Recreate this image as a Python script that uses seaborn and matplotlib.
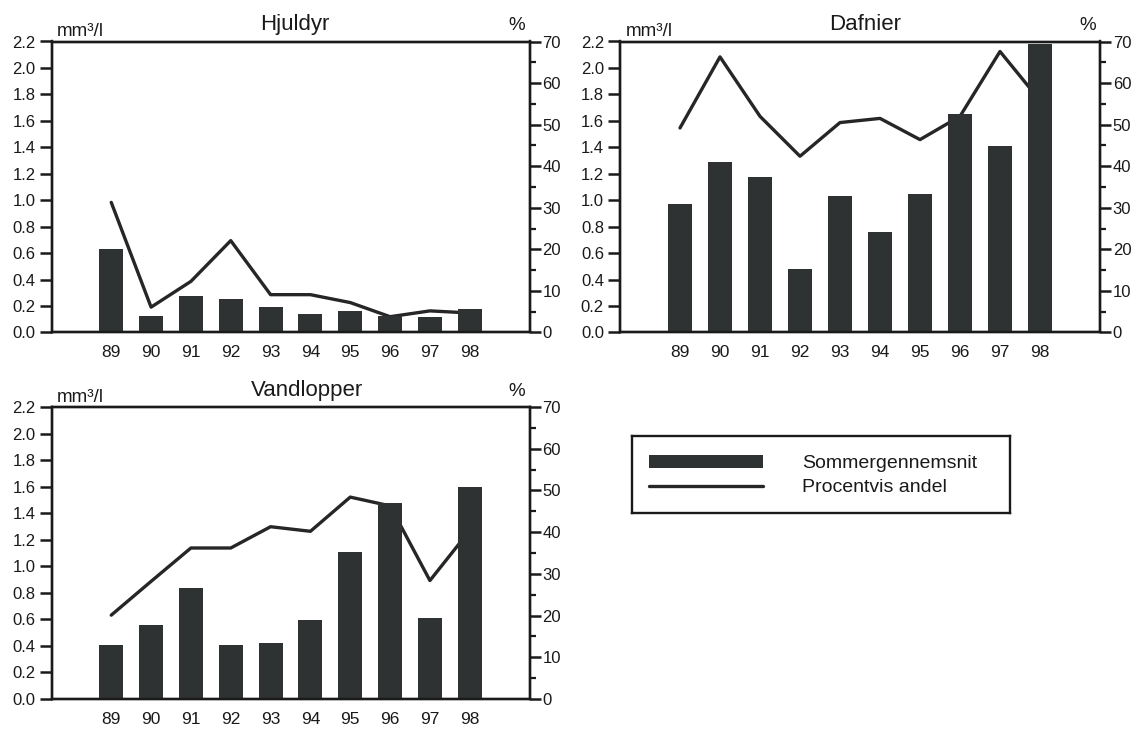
import matplotlib
matplotlib.use("Agg")
import matplotlib.pyplot as plt
from matplotlib.patches import Patch
from matplotlib.lines import Line2D
from matplotlib.ticker import MultipleLocator, FormatStrFormatter
import seaborn as sns

# Sampling years (two-digit)
years = ["89", "90", "91", "92", "93", "94", "95", "96", "97", "98"]

# Summer mean biovolume (mm³/l) and percentage share of total zooplankton
hjuldyr_vol = [0.63, 0.125, 0.275, 0.255, 0.19, 0.14, 0.16, 0.125, 0.12, 0.178]
hjuldyr_pct = [31.3, 6.1, 12.3, 22.1, 9.1, 9.1, 7.2, 3.8, 5.2, 4.7]

dafnier_vol = [0.975, 1.29, 1.177, 0.479, 1.03, 0.763, 1.047, 1.65, 1.41, 2.18]
dafnier_pct = [49.2, 66.3, 52.0, 42.4, 50.5, 51.5, 46.4, 52.0, 67.6, 55.8]

vandlopper_vol = [0.41, 0.558, 0.834, 0.407, 0.42, 0.595, 1.105, 1.478, 0.608, 1.595]
vandlopper_pct = [20.1, 28.2, 36.2, 36.2, 41.3, 40.2, 48.4, 46.3, 28.4, 40.4]

titles = ["Hjuldyr", "Dafnier", "Vandlopper"]
legend_labels = ["Sommergennemsnit", "Procentvis andel"]
vol_unit = "mm³/l"
pct_unit = "%"

BAR_COLOR = "#2e3232"
LINE_COLOR = "#262626"
INK = "#1a1a1a"

sns.set_style("ticks")
plt.rcParams["font.family"] = ["Liberation Sans", "DejaVu Sans"]
plt.rcParams["text.color"] = INK
plt.rcParams["xtick.color"] = INK
plt.rcParams["ytick.color"] = INK
plt.rcParams["axes.edgecolor"] = INK

W, H = 1144, 730
fig = plt.figure(figsize=(W / 100, H / 100), dpi=100)


def px_rect(x0, y0, x1, y1):
    """Figure-fraction rectangle from pixel corners (origin top-left)."""
    return [x0 / W, 1 - y1 / H, (x1 - x0) / W, (y1 - y0) / H]


panels = [
    (titles[0], hjuldyr_vol, hjuldyr_pct, (51.5, 41.5, 529.5, 332.5), 0.509),
    (titles[1], dafnier_vol, dafnier_pct, (620, 41.5, 1100, 332.5), 0.511),
    (titles[2], vandlopper_vol, vandlopper_pct, (51.5, 407, 529.5, 699), 0.535),
]

for title, vol, pct, box, title_x in panels:
    ax = fig.add_axes(px_rect(*box))
    ax2 = ax.twinx()

    sns.barplot(x=years, y=vol, ax=ax, color=BAR_COLOR, width=0.6,
                saturation=1, linewidth=0)
    sns.lineplot(x=years, y=pct, ax=ax2, color=LINE_COLOR, linewidth=2.4,
                 sort=False)

    # bars are drawn over the percentage line
    ax.set_zorder(ax2.get_zorder() + 1)
    ax.patch.set_visible(False)

    ax.set_xlim(-1.5, 10.5)
    ax.set_ylim(0, 2.2)
    ax.yaxis.set_major_locator(MultipleLocator(0.2))
    ax.yaxis.set_major_formatter(FormatStrFormatter("%.1f"))
    ax2.set_ylim(0, 70)
    ax2.yaxis.set_major_locator(MultipleLocator(10))
    ax2.yaxis.set_minor_locator(MultipleLocator(5))

    ax.set_xlabel("")
    ax.set_ylabel("")
    ax2.set_ylabel("")

    ax.tick_params(axis="x", length=0, pad=9, labelsize=12.5)
    ax.tick_params(axis="y", which="major", length=8.6, width=1.8, pad=3,
                   labelsize=12)
    ax2.tick_params(axis="y", which="major", length=7.7, width=1.8, pad=1.5,
                    labelsize=12)
    ax2.tick_params(axis="y", which="minor", length=4.3, width=1.6)

    for a in (ax, ax2):
        for side in ("left", "right", "top", "bottom"):
            a.spines[side].set_visible(True)
            a.spines[side].set_linewidth(1.7)
            a.spines[side].set_color(INK)

    ax.set_title(title, fontsize=16, pad=8, x=title_x)
    ax.annotate(vol_unit, xy=(0, 1), xycoords="axes fraction",
                xytext=(4, 3.6), textcoords="offset points",
                ha="left", va="baseline", fontsize=13.5)
    ax.annotate(pct_unit, xy=(1, 1), xycoords="axes fraction",
                xytext=(-9, 8), textcoords="offset points",
                ha="center", va="baseline", fontsize=13.5)

# Shared legend in its own framed box
ax_leg = fig.add_axes(px_rect(631.7, 436, 1010, 513.3))
ax_leg.set_xticks([])
ax_leg.set_yticks([])
for side in ("left", "right", "top", "bottom"):
    ax_leg.spines[side].set_visible(True)
    ax_leg.spines[side].set_linewidth(1.7)
    ax_leg.spines[side].set_color(INK)

handles = [Patch(facecolor=BAR_COLOR, edgecolor="none"),
           Line2D([], [], color=LINE_COLOR, linewidth=2.4)]
ax_leg.legend(handles, legend_labels, loc="center left",
              bbox_to_anchor=(0.0457, 0.489), frameon=False, fontsize=14,
              handlelength=5.86, handleheight=0.67, handletextpad=1.99,
              labelspacing=0.35, borderpad=0, borderaxespad=0)

fig.savefig("out.png", dpi=100)
